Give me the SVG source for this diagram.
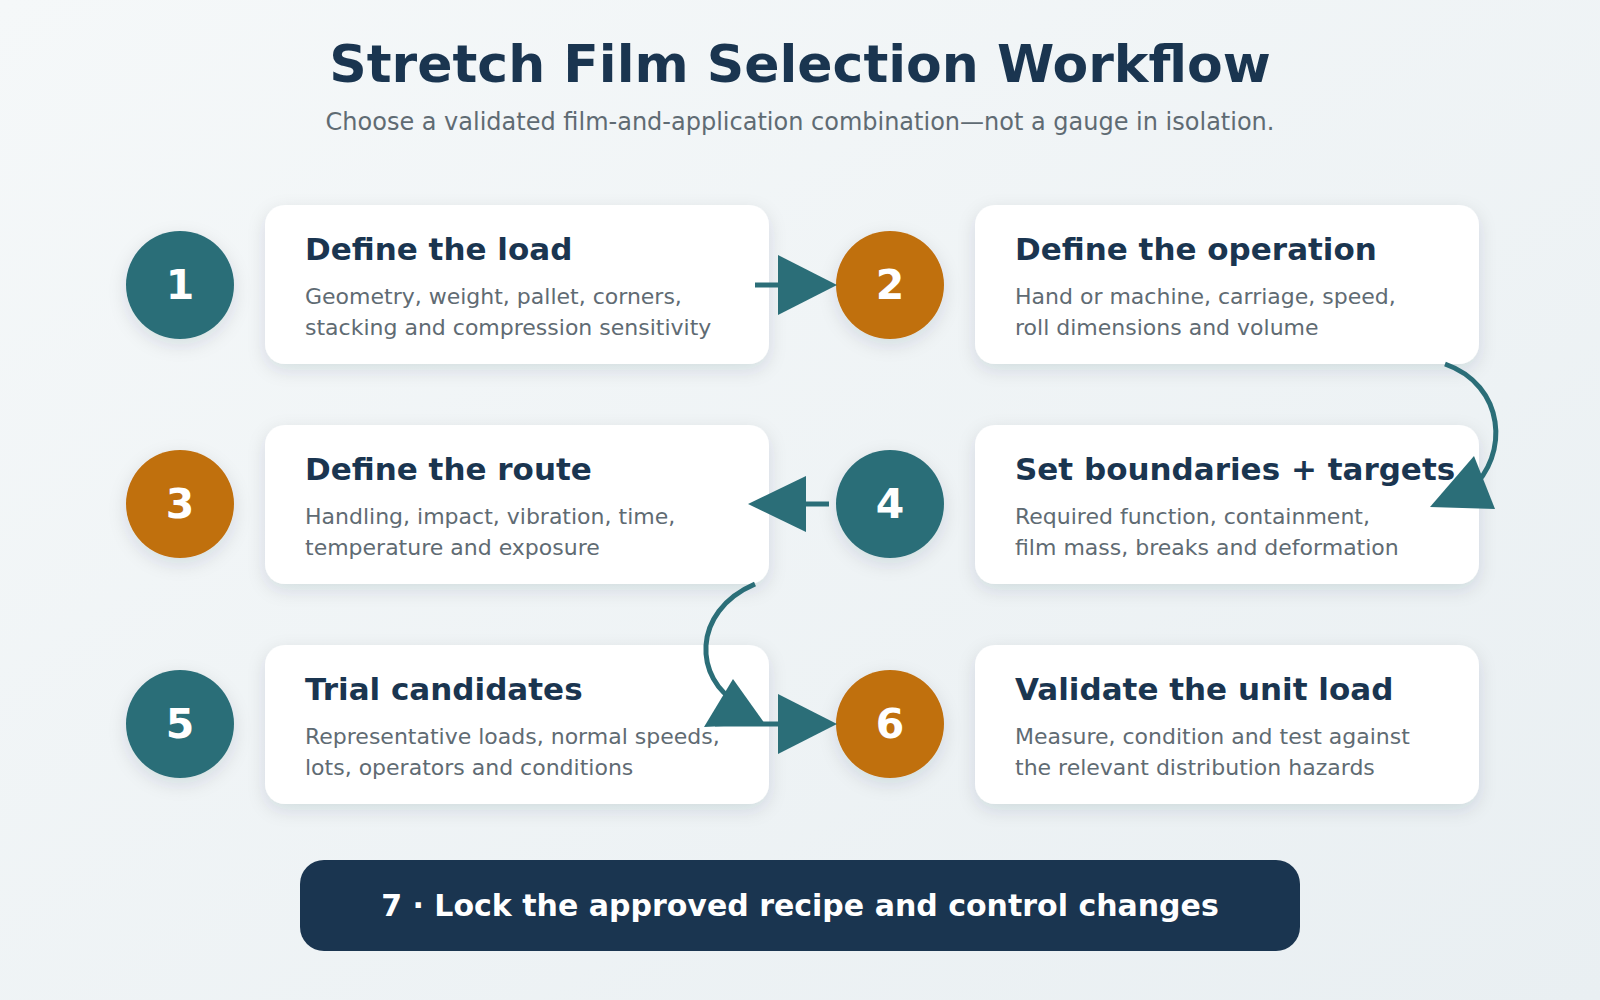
<svg xmlns="http://www.w3.org/2000/svg" width="1600" height="1000" viewBox="0 0 1600 1000">
<defs>
<linearGradient id="bg" x1="0" y1="0" x2="1" y2="1"><stop offset="0" stop-color="#f5f8f9"/><stop offset="1" stop-color="#e9eff2"/></linearGradient>
<filter id="sh" x="-20%" y="-30%" width="140%" height="160%"><feDropShadow dx="0" dy="6" stdDeviation="9" flood-color="#1a3550" flood-opacity="0.12"/></filter>
<style>
.card{fill:#fff;filter:url(#sh)}
.t{font-family:"DejaVu Sans",sans-serif;font-weight:bold;font-size:31px;fill:#1a3550}
.d{font-family:"DejaVu Sans",sans-serif;font-size:22px;fill:#5f6b73}
.n{font-family:"DejaVu Sans",sans-serif;font-weight:bold;font-size:41px;fill:#fff;text-anchor:middle}
.teal{fill:#2b6e78;filter:url(#sh)}
.or{fill:#c0700f;filter:url(#sh)}
.ln{stroke:#2b6e78;stroke-width:5;fill:none}
.ah{fill:#2b6e78}
</style>
</defs>
<rect width="1600" height="1000" fill="url(#bg)"/>
<text x="800" y="82" text-anchor="middle" font-family="DejaVu Sans, sans-serif" font-weight="bold" font-size="52" fill="#1a3550">Stretch Film Selection Workflow</text>
<text x="800" y="130" text-anchor="middle" font-family="DejaVu Sans, sans-serif" font-size="24" fill="#5f6b73">Choose a validated film-and-application combination—not a gauge in isolation.</text>

<g id="step1"><circle class="teal" cx="180" cy="285" r="54"/><text class="n" x="180" y="299">1</text>
<rect class="card" x="265" y="205" width="504" height="159" rx="20"/>
<text class="t" x="305" y="260">Define the load</text>
<text class="d" x="305" y="304">Geometry, weight, pallet, corners,</text><text class="d" x="305" y="335">stacking and compression sensitivity</text></g>

<g id="step2"><circle class="or" cx="890" cy="285" r="54"/><text class="n" x="890" y="299">2</text>
<rect class="card" x="975" y="205" width="504" height="159" rx="20"/>
<text class="t" x="1015" y="260">Define the operation</text>
<text class="d" x="1015" y="304">Hand or machine, carriage, speed,</text><text class="d" x="1015" y="335">roll dimensions and volume</text></g>

<g id="step3"><circle class="or" cx="180" cy="504" r="54"/><text class="n" x="180" y="518">3</text>
<rect class="card" x="265" y="425" width="504" height="159" rx="20"/>
<text class="t" x="305" y="480">Define the route</text>
<text class="d" x="305" y="524">Handling, impact, vibration, time,</text><text class="d" x="305" y="555">temperature and exposure</text></g>

<g id="step4"><circle class="teal" cx="890" cy="504" r="54"/><text class="n" x="890" y="518">4</text>
<rect class="card" x="975" y="425" width="504" height="159" rx="20"/>
<text class="t" x="1015" y="480">Set boundaries + targets</text>
<text class="d" x="1015" y="524">Required function, containment,</text><text class="d" x="1015" y="555">film mass, breaks and deformation</text></g>

<g id="step5"><circle class="teal" cx="180" cy="724" r="54"/><text class="n" x="180" y="738">5</text>
<rect class="card" x="265" y="645" width="504" height="159" rx="20"/>
<text class="t" x="305" y="700">Trial candidates</text>
<text class="d" x="305" y="744">Representative loads, normal speeds,</text><text class="d" x="305" y="775">lots, operators and conditions</text></g>

<g id="step6"><circle class="or" cx="890" cy="724" r="54"/><text class="n" x="890" y="738">6</text>
<rect class="card" x="975" y="645" width="504" height="159" rx="20"/>
<text class="t" x="1015" y="700">Validate the unit load</text>
<text class="d" x="1015" y="744">Measure, condition and test against</text><text class="d" x="1015" y="775">the relevant distribution hazards</text></g>

<g id="step7"><rect x="300" y="860" width="1000" height="91" rx="24" fill="#1a3550"/>
<text x="800" y="916" text-anchor="middle" font-family="DejaVu Sans, sans-serif" font-weight="bold" font-size="30" fill="#fff">7 · Lock the approved recipe and control changes</text></g>

<g id="connectors">
<line class="ln" x1="755" y1="285" x2="785" y2="285"/><polygon class="ah" points="778,255 837,285 778,315"/>
<path class="ln" d="M1445,364 C1505,385 1510,455 1470,490"/><polygon class="ah" points="1430,507 1495,509 1474,456"/>
<line class="ln" x1="829" y1="504" x2="800" y2="504"/><polygon class="ah" points="806,476 748,504 806,532"/>
<path class="ln" d="M755,584 C690,612 695,680 738,703"/><polygon class="ah" points="704,727 765,724 733,679"/>
<line class="ln" x1="715" y1="724" x2="785" y2="724"/><polygon class="ah" points="778,694 837,724 778,754"/>
</g>
</svg>
